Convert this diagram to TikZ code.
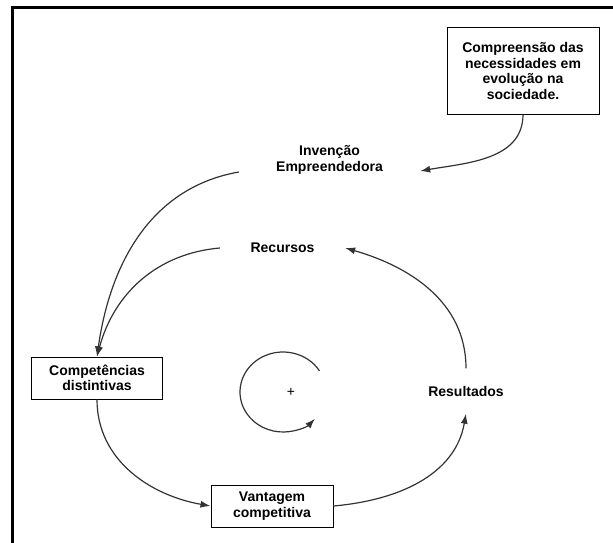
\documentclass[tikz,border=0pt]{standalone}
\usepackage{fontspec}
\setmainfont{Liberation Sans}
\usetikzlibrary{arrows.meta}

\tikzset{
  caixa/.style={draw, line width=1pt, align=center, inner sep=0pt,
    font=\bfseries\fontsize{14}{15.5}\selectfont},
  rotulo/.style={align=center, inner sep=0pt,
    font=\bfseries\fontsize{14}{15.5}\selectfont},
  seta/.style={-{Latex[length=10pt,width=7pt]}, line width=1.2pt, draw=black!80}
}

\begin{document}
\begin{tikzpicture}[x=1pt,y=-1pt]
\useasboundingbox (0,0) rectangle (613,543);
\draw[line width=3pt] (613,7.5) -- (12.5,7.5) -- (12.5,543);

\draw (523,71)   node (compr) [caixa, minimum width=152pt, minimum height=86pt] {Compreensão das\\necessidades em\\evolução na\\sociedade.};
\draw (329.5,160) node (inv)  [rotulo, minimum width=181pt, minimum height=30pt] {Invenção\\Empreendedora};
\draw (282.5,248) node (rec)  [rotulo, minimum width=125pt] {Recursos};
\draw (466,391)  node (res)   [rotulo, minimum height=45pt] {Resultados};
\draw (97,378)   node (comp)  [caixa, minimum width=131pt, minimum height=42pt] {Competências\\distintivas};
\draw (272,506)  node (vant)  [caixa, minimum width=122pt, minimum height=42pt] {Vantagem\\competitiva};
\draw (291,392)  node (mais)  [font=\fontsize{14}{15}\selectfont] {+};

\draw[seta] (compr.south) to[out=-90, in=10] ([yshift=-11pt]inv.east);
\draw[seta] ([yshift=-12pt]inv.west) to[out=190, in=82] (comp.north);
\draw[seta] (rec.west) to[out=185, in=75] (comp.north);
\draw[seta] (comp.south) to[out=-90, in=170] (vant.west);
\draw[seta] (vant.east) to[out=5, in=-100] (res.south);
\draw[seta] (res.north) to[out=90, in=-16] (rec.east);
\draw[seta] ([shift={(32:43pt and 40pt)}, xshift=-8pt]mais.center) arc[start angle=32, end angle=318, x radius=43pt, y radius=40pt];
\end{tikzpicture}
\end{document}
